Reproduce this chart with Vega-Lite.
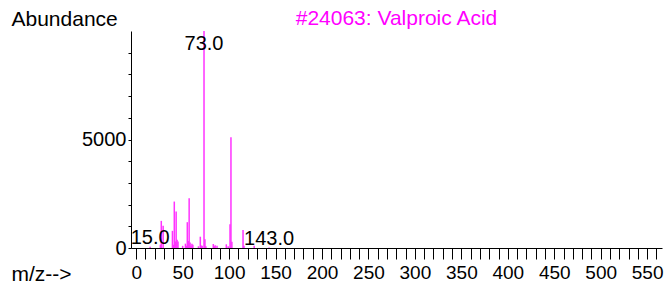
{
  "$schema": "https://vega.github.io/schema/vega-lite/v6.json",
  "width": 531,
  "height": 217,
  "autosize": {"type": "none"},
  "padding": {"left": 131, "top": 31, "right": 7, "bottom": 37},
  "background": "white",
  "title": {"text": "#24063: Valproic Acid", "color": "#ff00ff", "fontSize": 21, "font": "Liberation Sans", "fontWeight": "normal", "anchor": "middle", "frame": "group", "offset": 1, "dy": 22},
  "datasets": {
    "peaks": [
      {"mz": 15, "abundance": 60}, {"mz": 26, "abundance": 150}, {"mz": 27, "abundance": 1250},
      {"mz": 29, "abundance": 1030}, {"mz": 39, "abundance": 790}, {"mz": 40, "abundance": 150},
      {"mz": 41, "abundance": 2140}, {"mz": 42, "abundance": 300}, {"mz": 43, "abundance": 1680},
      {"mz": 44, "abundance": 380}, {"mz": 45, "abundance": 300}, {"mz": 50, "abundance": 100},
      {"mz": 53, "abundance": 200}, {"mz": 54, "abundance": 100}, {"mz": 55, "abundance": 1190},
      {"mz": 56, "abundance": 320}, {"mz": 57, "abundance": 2290}, {"mz": 58, "abundance": 250},
      {"mz": 59, "abundance": 100}, {"mz": 60, "abundance": 200}, {"mz": 61, "abundance": 150},
      {"mz": 67, "abundance": 80}, {"mz": 69, "abundance": 520}, {"mz": 70, "abundance": 120},
      {"mz": 71, "abundance": 100}, {"mz": 73, "abundance": 9999}, {"mz": 74, "abundance": 400},
      {"mz": 75, "abundance": 80}, {"mz": 83, "abundance": 185}, {"mz": 84, "abundance": 80},
      {"mz": 85, "abundance": 125}, {"mz": 87, "abundance": 100}, {"mz": 97, "abundance": 170},
      {"mz": 99, "abundance": 80}, {"mz": 101, "abundance": 1090}, {"mz": 102, "abundance": 5100},
      {"mz": 103, "abundance": 290}, {"mz": 115, "abundance": 830}, {"mz": 116, "abundance": 100},
      {"mz": 127, "abundance": 100}, {"mz": 143, "abundance": 20}
    ],
    "labels": [
      {"mz": 73, "abundance": 9999, "label": "73.0"},
      {"mz": 15, "abundance": 60, "label": "15.0"},
      {"mz": 143, "abundance": 20, "label": "143.0"}
    ]
  },
  "encoding": {
    "x": {
      "field": "mz", "type": "quantitative",
      "scale": {"domain": [-5.6, 566], "nice": false, "zero": false},
      "axis": {
        "values": [0,10,20,30,40,50,60,70,80,90,100,110,120,130,140,150,160,170,180,190,200,210,220,230,240,250,260,270,280,290,300,310,320,330,340,350,360,370,380,390,400,410,420,430,440,450,460,470,480,490,500,510,520,530,540,550,560],
        "labelExpr": "datum.value % 50 === 0 ? datum.label : ''",
        "format": "d",
        "tickSize": 11,
        "labelPadding": 4,
        "labelFontSize": 19,
        "labelFont": "Liberation Sans",
        "labelColor": "black",
        "tickColor": "black",
        "domainColor": "black",
        "grid": false,
        "labelFlush": false,
        "labelOverlap": false,
        "title": "m/z-->",
        "titleFont": "Liberation Sans",
        "titleFontSize": 21,
        "titleFontWeight": "normal",
        "titleColor": "black",
        "titleX": -120,
        "titleY": 32,
        "titleAlign": "left",
        "titleBaseline": "alphabetic",
        "encode": {"ticks": {"update": {"y2": {"signal": "datum.value % 50 === 0 ? 11 : 5"}}}}
      }
    },
    "y": {
      "field": "abundance", "type": "quantitative",
      "scale": {"domain": [0, 10000], "nice": false},
      "axis": {
        "values": [0,1000,2000,3000,4000,5000,6000,7000,8000,9000],
        "labelExpr": "datum.value % 5000 === 0 ? datum.label : ''",
        "format": "d",
        "tickSize": 3,
        "labelPadding": 2,
        "labelFontSize": 20,
        "labelFont": "Liberation Sans",
        "labelColor": "black",
        "tickColor": "black",
        "domainColor": "black",
        "grid": false,
        "labelOverlap": false,
        "title": "Abundance",
        "titleFont": "Liberation Sans",
        "titleFontSize": 21,
        "titleFontWeight": "normal",
        "titleColor": "black",
        "titleAngle": 0,
        "titleX": -120,
        "titleY": -6,
        "titleAlign": "left",
        "titleBaseline": "alphabetic"
      }
    }
  },
  "layer": [
    {
      "data": {"name": "peaks"},
      "mark": {"type": "rule", "color": "#ff33ff", "strokeWidth": 1.5},
      "encoding": {
        "y2": {"datum": 0}
      }
    },
    {
      "data": {"name": "labels"},
      "transform": [{"filter": "datum.mz == 73"}],
      "mark": {"type": "text", "baseline": "top", "align": "center", "dy": 3, "fontSize": 20, "font": "Liberation Sans", "color": "black"},
      "encoding": {
        "text": {"field": "label"}
      }
    },
    {
      "data": {"name": "labels"},
      "transform": [{"filter": "datum.mz != 73"}],
      "mark": {"type": "text", "baseline": "alphabetic", "align": "center", "dy": -3, "fontSize": 20, "font": "Liberation Sans", "color": "black"},
      "encoding": {
        "text": {"field": "label"}
      }
    }
  ],
  "config": {"view": {"stroke": null}, "font": "Liberation Sans"}
}
